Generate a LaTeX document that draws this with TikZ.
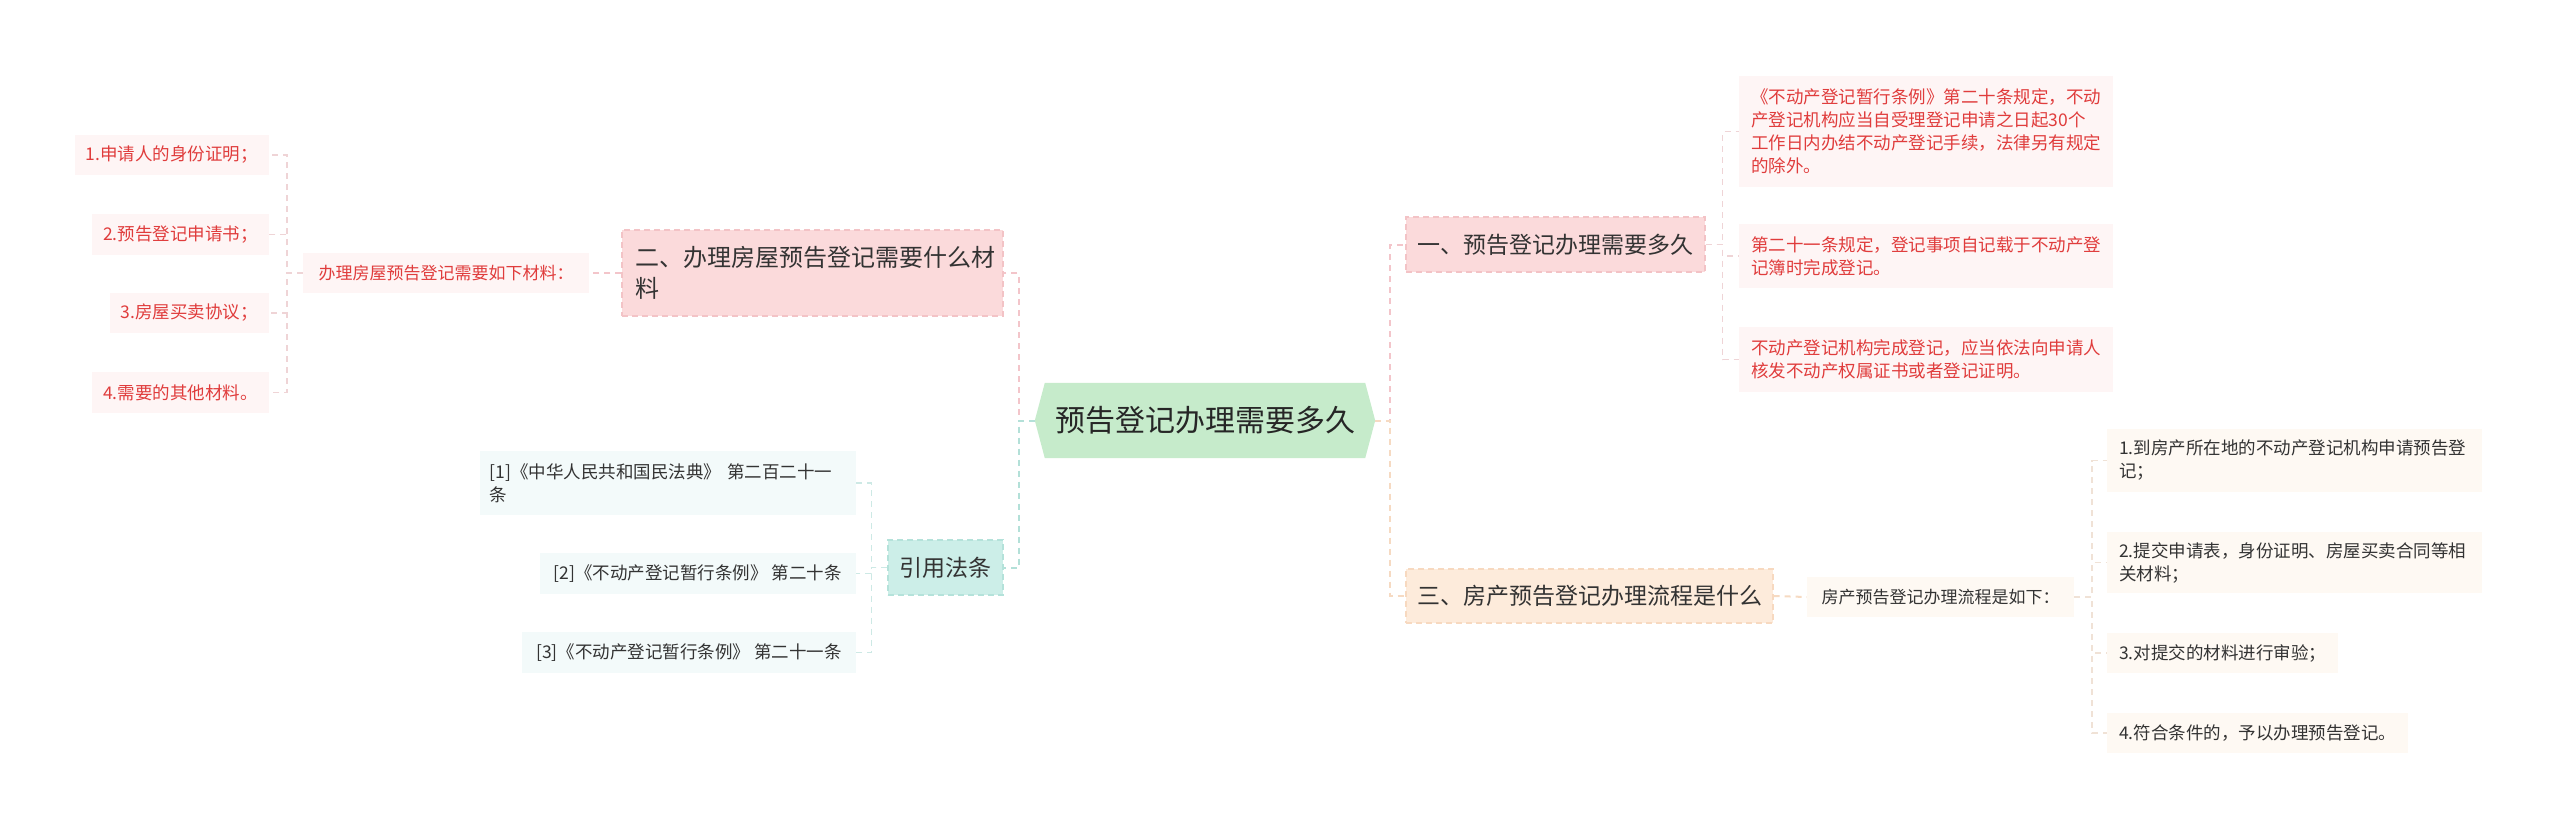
\documentclass[tikz,border=0pt]{standalone}
\usepackage{fontspec}
\setmainfont{Noto Sans CJK SC}
\usetikzlibrary{backgrounds}
\definecolor{txt}{HTML}{333333}
\definecolor{redtxt}{HTML}{E03C3C}
\definecolor{pinkbox}{HTML}{FBDADB}
\definecolor{pinkborder}{HTML}{F3C3C6}
\definecolor{pinkleaf}{HTML}{FEF5F5}
\definecolor{greenc}{HTML}{C6EBCB}
\definecolor{tealbox}{HTML}{CCEEE8}
\definecolor{tealborder}{HTML}{B4E2DA}
\definecolor{tealleaf}{HTML}{F3FAFA}
\definecolor{peachbox}{HTML}{FDEBDB}
\definecolor{peachborder}{HTML}{F7D9C0}
\definecolor{peachleaf}{HTML}{FEF9F3}
\definecolor{pinkline}{HTML}{F3C5CA}
\definecolor{tealline}{HTML}{B3E0D8}
\definecolor{peachline}{HTML}{F6DAC2}
\definecolor{pinkleafline}{HTML}{EFD4D6}
\definecolor{tealleafline}{HTML}{CDE9E5}
\definecolor{peachleafline}{HTML}{F0E2D6}
\begin{document}
\begin{tikzpicture}[x=1pt,y=-1pt,
  base/.style={inner sep=0pt, align=left, text=txt},
  fs17/.style={font=\fontsize{17}{23}\selectfont},
  fsleaf/.style={font=\fontsize{17.5}{23}\selectfont},
  fs23/.style={font=\fontsize{23}{30}\selectfont},
  pinkmain/.style={base, fs23, fill=pinkbox, draw=pinkborder, dashed, line width=1.2pt, dash pattern=on 6pt off 4pt},
  tealmain/.style={base, fs23, fill=tealbox, draw=tealborder, dashed, line width=1.2pt, dash pattern=on 6pt off 4pt},
  peachmain/.style={base, fs23, fill=peachbox, draw=peachborder, dashed, line width=1.2pt, dash pattern=on 6pt off 4pt},
  pleaf/.style={base, fsleaf, fill=pinkleaf, text=redtxt},
  tleaf/.style={base, fsleaf, fill=tealleaf},
  eleaf/.style={base, fsleaf, fill=peachleaf},
  conn/.style={line width=2pt, dash pattern=on 6pt off 5pt},
  pk/.style={conn, draw=pinkline},
  tl/.style={conn, draw=tealline},
  pc/.style={conn, draw=peachline},
  pkl/.style={conn, line width=1.5pt, draw=pinkleafline},
  tll/.style={conn, line width=1.5pt, draw=tealleafline},
  pcl/.style={conn, line width=1.5pt, draw=peachleafline}
]
\useasboundingbox (0,0) rectangle (2560,830);

% central
\node[base, font=\fontsize{30}{36}\selectfont, text=black!85, minimum width=340, minimum height=75, align=center] (c) at (1205,420.5) {预告登记办理需要多久};
\begin{scope}[on background layer]
\fill[greenc] (c.west) -- ([xshift=10]c.north west) -- ([xshift=-10]c.north east) -- (c.east) -- ([xshift=-10]c.south east) -- ([xshift=10]c.south west) -- cycle;
\end{scope}

% left branch: 二
\node[pinkmain, text width=355, inner xsep=13, minimum height=86, font=\fontsize{24}{31}\selectfont] (b2) at (812.5,273) {二、办理房屋预告登记需要什么材\\料};
\node[pleaf, fs17, minimum width=286, minimum height=40, align=center] (s2) at (446,273) {办理房屋预告登记需要如下材料：};
\node[pleaf, inner xsep=11, minimum height=40, anchor=east] (l1) at (269,155) {1.申请人的身份证明；};
\node[pleaf, inner xsep=11, minimum height=41, anchor=east] (l2) at (269,234.5) {2.预告登记申请书；};
\node[pleaf, inner xsep=11, minimum height=40, anchor=east] (l3) at (269,313) {3.房屋买卖协议；};
\node[pleaf, inner xsep=11, minimum height=41, anchor=east] (l4) at (269,392.5) {4.需要的其他材料。};

% left branch: 引用法条
\node[tealmain, minimum width=115, minimum height=55, align=center] (r) at (945.5,567.5) {引用法条};
\node[tleaf, text width=356, inner xsep=10, minimum height=64, anchor=east] (r1) at (856,483) {[1]《中华人民共和国民法典》 第二百二十一\\条};
\node[tleaf, inner xsep=14, minimum height=41, anchor=east] (r2) at (856,573.5) {[2]《不动产登记暂行条例》 第二十条};
\node[tleaf, inner xsep=14, minimum height=41, anchor=east] (r3) at (856,652.5) {[3]《不动产登记暂行条例》 第二十一条};

% right branch: 一
\node[pinkmain, minimum width=299, minimum height=55, align=center] (g1) at (1555.5,244.5) {一、预告登记办理需要多久};
\node[pleaf, text width=350, inner xsep=12, minimum height=111, anchor=west] (q1) at (1739,131.5) {《不动产登记暂行条例》第二十条规定，不动\\产登记机构应当自受理登记申请之日起30个\\工作日内办结不动产登记手续，法律另有规定\\的除外。};
\node[pleaf, text width=350, inner xsep=12, minimum height=64, anchor=west] (q2) at (1739,256) {第二十一条规定，登记事项自记载于不动产登\\记簿时完成登记。};
\node[pleaf, text width=350, inner xsep=12, minimum height=65, anchor=west] (q3) at (1739,359.5) {不动产登记机构完成登记，应当依法向申请人\\核发不动产权属证书或者登记证明。};

% right branch: 三
\node[peachmain, minimum width=367, minimum height=54, align=center] (g3) at (1589.5,596) {三、房产预告登记办理流程是什么};
\node[eleaf, fs17, minimum width=267, minimum height=40, align=center] (t) at (1940.5,597) {房产预告登记办理流程是如下：};
\node[eleaf, text width=351, inner xsep=12, minimum height=63, anchor=west] (p1) at (2107,460.5) {1.到房产所在地的不动产登记机构申请预告登\\记；};
\node[eleaf, text width=351, inner xsep=12, minimum height=61, anchor=west] (p2) at (2107,562.5) {2.提交申请表，身份证明、房屋买卖合同等相\\关材料；};
\node[eleaf, inner xsep=12, minimum height=40, anchor=west] (p3) at (2107,653) {3.对提交的材料进行审验；};
\node[eleaf, inner xsep=12, minimum height=40, anchor=west] (p4) at (2107,733) {4.符合条件的，予以办理预告登记。};

% connectors
\begin{scope}[on background layer]
\draw[pk] (c.west) -- ++(-16,0) |- (b2.east);
\draw[tl] (c.west) -- ++(-16,0) |- (r.east);
\draw[pk] (c.east) -- ++(15,0) |- (g1.west);
\draw[pc] (c.east) -- ++(15,0) |- (g3.west);

\draw[pk] (b2.west) -- (s2.east);
\foreach \n in {l1,l2,l3,l4} \draw[pkl] (s2.west) -- ++(-16,0) |- (\n.east);
\foreach \n in {r1,r2,r3} \draw[tll] (r.west) -- ++(-16,0) |- (\n.east);
\foreach \n in {q1,q2,q3} \draw[pkl] (g1.east) -- ++(17,0) |- (\n.west);
\draw[pc] (g3.east) -- (t.west);
\foreach \n in {p1,p2,p3,p4} \draw[pcl] (t.east) -- ++(18,0) |- (\n.west);
\end{scope}
\end{tikzpicture}
\end{document}
